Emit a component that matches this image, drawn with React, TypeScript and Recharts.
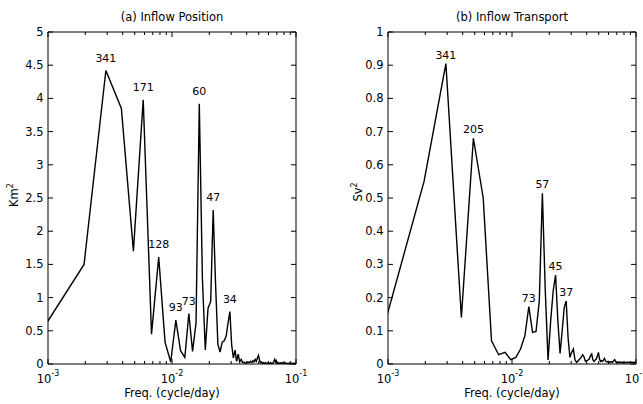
import React from "react";
import { LineChart, Line, XAxis, YAxis, ReferenceArea, LabelList } from "recharts";

// Periodogram of a 1024-day record: point k sits at k / 1024 cycle/day.
const RECORD_DAYS = 1024;
const FONT = "DejaVu Sans, sans-serif";

// (a) inflow position, Km^2, harmonics k = 1..102
const positionPower = [
  0.62, 1.5, 4.42, 3.85, 1.7, 3.98, 0.45, 1.61, 0.33, 0.03,
  0.66, 0.2, 0.1, 0.76, 0.19, 0.62, 3.92, 1.3, 0.21, 0.84,
  0.94, 2.32, 1.2, 0.3, 0.18, 0.33, 0.35, 0.42, 0.62, 0.79,
  0.29, 0.09, 0.21, 0.04, 0.15, 0.03, 0.07, 0.02, 0.03, 0.01,
  0.02, 0.03, 0.02, 0.04, 0.02, 0.05, 0.03, 0.07, 0.04, 0.09,
  0.13, 0.06, 0.02, 0.03, 0.01, 0.02, 0.01, 0.02, 0.01, 0.01,
  0.02, 0.01, 0.01, 0.02, 0.01, 0.01, 0.02, 0.04, 0.07, 0.03,
  0.05, 0.02, 0.01, 0.02, 0.01, 0.01, 0.02, 0.01, 0.01, 0.02,
  0.01, 0.01, 0.01, 0.02, 0.01, 0.01, 0.01, 0.005, 0.01, 0.005,
  0.01, 0.005, 0.01, 0.005, 0.01, 0.005, 0.01, 0.005, 0.01, 0.005,
  0.01, 0.005,
];

// (b) inflow transport, Sv^2, harmonics k = 1..102
const transportPower = [
  0.143, 0.55, 0.905, 0.14, 0.68, 0.5, 0.07, 0.028, 0.035, 0.013,
  0.02, 0.045, 0.085, 0.173, 0.095, 0.098, 0.19, 0.514, 0.22, 0.012,
  0.13, 0.22, 0.268, 0.13, 0.032, 0.1, 0.17, 0.19, 0.08, 0.02,
  0.035, 0.045, 0.012, 0.005, 0.01, 0.015, 0.02, 0.028, 0.022, 0.008,
  0.01, 0.012, 0.015, 0.025, 0.03, 0.012, 0.008, 0.012, 0.015, 0.025,
  0.035, 0.015, 0.008, 0.01, 0.008, 0.012, 0.017, 0.01, 0.007, 0.006,
  0.008, 0.006, 0.005, 0.007, 0.006, 0.005, 0.008, 0.011, 0.013, 0.008,
  0.005, 0.004, 0.006, 0.004, 0.005, 0.004, 0.006, 0.004, 0.005, 0.004,
  0.005, 0.004, 0.005, 0.004, 0.005, 0.004, 0.005, 0.004, 0.005, 0.004,
  0.005, 0.004, 0.005, 0.004, 0.005, 0.004, 0.005, 0.004, 0.005, 0.004,
  0.005, 0.004,
];

// peak annotations (period in days) by harmonic number
const positionPeakK = [3, 6, 8, 11, 14, 17, 22, 30];
const positionPeakText = ["341", "171", "128", "93", "73", "60", "47", "34"];
const transportPeakK = [3, 5, 14, 18, 23, 28];
const transportPeakText = ["341", "205", "73", "57", "45", "37"];

const majorTicks = [0.001, 0.01, 0.1];
const majorExp = ["-3", "-2", "-1"];
const freqTicks = [
  0.001, 0.002, 0.003, 0.004, 0.005, 0.006, 0.007, 0.008, 0.009,
  0.01, 0.02, 0.03, 0.04, 0.05, 0.06, 0.07, 0.08, 0.09, 0.1,
];
const positionTicks = [0, 0.5, 1, 1.5, 2, 2.5, 3, 3.5, 4, 4.5, 5];
const transportTicks = [0, 0.1, 0.2, 0.3, 0.4, 0.5, 0.6, 0.7, 0.8, 0.9, 1];

const PLOT_W = 248;
const PLOT_H = 332;

type Row = { f: number; v: number; peak?: string };

function buildRows(values: number[], peakK: number[], peakText: string[]): Row[] {
  return values.map((v, i) => {
    const j = peakK.indexOf(i + 1);
    return { f: (i + 1) / RECORD_DAYS, v, peak: j >= 0 ? peakText[j] : undefined };
  });
}

function FreqTick(props: any) {
  const { x, y, payload } = props;
  const j = majorTicks.indexOf(payload.value);
  const len = j >= 0 ? 5 : 3;
  return (
    <g>
      <line x1={x} x2={x} y1={y} y2={y - len} stroke="#000" />
      <line x1={x} x2={x} y1={y - PLOT_H} y2={y - PLOT_H + len} stroke="#000" />
      {j >= 0 && (
        <text x={x} y={y + 19} textAnchor="middle" fontSize={11.5} fontFamily={FONT} fill="#000">
          10
          <tspan dy={-7} fontSize={8}>
            {majorExp[j]}
          </tspan>
        </text>
      )}
    </g>
  );
}

function PowerTick(props: any) {
  const { x, y, payload } = props;
  return (
    <g>
      <line x1={x} x2={x + 5} y1={y} y2={y} stroke="#000" />
      <line x1={x + PLOT_W} x2={x + PLOT_W - 5} y1={y} y2={y} stroke="#000" />
      <text x={x - 4.5} y={y + 4} textAnchor="end" fontSize={11.5} fontFamily={FONT} fill="#000">
        {payload.value}
      </text>
    </g>
  );
}

const peakLabel = (offset: number) => (props: any) => {
  const { value } = props;
  if (value == null || value === "") return null;
  const vb = props.viewBox || {};
  const x = vb.x ?? props.x;
  const y = vb.y ?? props.y;
  return (
    <text x={x} y={y - offset} textAnchor="middle" fontSize={11} fontFamily={FONT} fill="#000">
      {value}
    </text>
  );
};

type PanelProps = {
  left: number;
  width: number;
  axisWidth: number;
  title: string;
  unit: string;
  unitX: number;
  unitY: number;
  rows: Row[];
  yMax: number;
  yTicks: number[];
  peakOffset: number;
};

function Panel(p: PanelProps) {
  const cx = p.axisWidth + PLOT_W / 2;
  const texts = () => (
    <g fontFamily={FONT} fill="#000" fontSize={11.5}>
      <text x={cx} y={21} textAnchor="middle">
        {p.title}
      </text>
      <text
        x={p.unitX}
        y={p.unitY}
        textAnchor="middle"
        transform={`rotate(-90 ${p.unitX} ${p.unitY})`}
      >
        {p.unit}
        <tspan dy={-5} fontSize={8}>
          2
        </tspan>
      </text>
      <text x={cx} y={397} textAnchor="middle">
        Freq. (cycle/day)
      </text>
    </g>
  );
  return (
    <div style={{ position: "absolute", left: p.left, top: 0 }}>
      <LineChart
        width={p.width}
        height={404}
        data={p.rows}
        margin={{ top: 32, right: p.width - p.axisWidth - PLOT_W, bottom: 0, left: 0 }}
      >
        <XAxis
          dataKey="f"
          type="number"
          scale="log"
          domain={[0.001, 0.1]}
          allowDataOverflow
          ticks={freqTicks}
          interval={0}
          height={40}
          tickSize={0}
          tickMargin={0}
          tickLine={false}
          axisLine={false}
          tick={<FreqTick />}
        />
        <YAxis
          type="number"
          domain={[0, p.yMax]}
          ticks={p.yTicks}
          interval={0}
          width={p.axisWidth}
          tickSize={0}
          tickMargin={0}
          tickLine={false}
          axisLine={false}
          tick={<PowerTick />}
          label={texts}
        />
        <ReferenceArea
          x1={0.001}
          x2={0.1}
          y1={0}
          y2={p.yMax}
          fill="none"
          stroke="#000"
          strokeWidth={1}
          fillOpacity={0}
        />
        <Line
          type="linear"
          dataKey="v"
          stroke="#000"
          strokeWidth={1.4}
          dot={false}
          isAnimationActive={false}
        >
          <LabelList dataKey="peak" content={peakLabel(p.peakOffset)} />
        </Line>
      </LineChart>
    </div>
  );
}

export default function App() {
  const posRows = buildRows(positionPower, positionPeakK, positionPeakText);
  const trRows = buildRows(transportPower, transportPeakK, transportPeakText);
  return (
    <div
      style={{
        position: "absolute",
        left: 0,
        top: 0,
        width: 643,
        height: 404,
        background: "#fff",
        overflow: "hidden",
      }}
    >
      <Panel
        left={0}
        width={321}
        axisWidth={48}
        title="(a) Inflow Position"
        unit="Km"
        unitX={18}
        unitY={195}
        rows={posRows}
        yMax={5}
        yTicks={positionTicks}
        peakOffset={9}
      />
      <Panel
        left={321}
        width={322}
        axisWidth={67}
        title="(b) Inflow Transport"
        unit="Sv"
        unitX={41}
        unitY={192}
        rows={trRows}
        yMax={1}
        yTicks={transportTicks}
        peakOffset={5}
      />
    </div>
  );
}
